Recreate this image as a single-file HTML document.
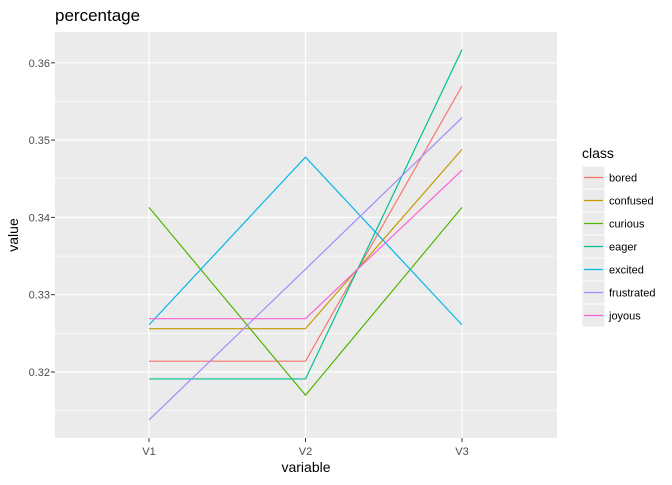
<!DOCTYPE html>
<html><head><meta charset="utf-8"><style>
body{margin:0;background:#fff;font-family:"Liberation Sans",sans-serif}
</style></head><body>
<svg width="672" height="480" xmlns="http://www.w3.org/2000/svg" font-family="Liberation Sans, sans-serif">
<text x="55" y="21" font-size="17" fill="#000">percentage</text>
<rect x="55" y="32" width="502" height="406" fill="#EBEBEB"/>
<g id="grid"></g>
<g id="series"></g>
<g id="axes"></g>
<text x="306" y="472" font-size="14" text-anchor="middle">variable</text>
<text transform="translate(18,235) rotate(-90)" font-size="14" text-anchor="middle">value</text>
<text x="582" y="158" font-size="14">class</text>
<g id="legend"></g>
</svg>
<script>
const categories=["V1","V2","V3"];
const classes=["bored","confused","curious","eager","excited","frustrated","joyous"];
const colors=["#F8766D","#C49A00","#53B400","#00C094","#00B6EB","#A58AFF","#FB61D7"];
const bored=[0.3214,0.3214,0.3570];
const confused=[0.3256,0.3256,0.3488];
const curious=[0.3413,0.3170,0.3413];
const eager=[0.3191,0.3191,0.3617];
const excited=[0.3261,0.3478,0.3261];
const frustrated=[0.3138,0.3333,0.3529];
const joyous=[0.3269,0.3269,0.3461];
const yTicks=[0.32,0.33,0.34,0.35,0.36];
const seriesVals=[bored,confused,curious,eager,excited,frustrated,joyous];
const NS="http://www.w3.org/2000/svg";
function xs(i){return 149+i*156.5;}
function ys(v){return 372-(v-0.32)*7730;}
function mk(t,a,p){const e=document.createElementNS(NS,t);for(const k in a)e.setAttribute(k,a[k]);p.appendChild(e);return e;}
const grid=document.getElementById('grid'),axes=document.getElementById('axes');
for(let i=0;i<yTicks.length+1;i++){const v=yTicks[0]-0.005+i*0.01;const y=ys(v);if(y>32&&y<438){const l=mk('line',{x1:55,x2:557,y1:y,y2:y,stroke:'#fff','stroke-width':0.6},grid);

}}
yTicks.forEach(v=>{const y=ys(v);const l=mk('line',{x1:55,x2:557,y1:y,y2:y,stroke:'#fff','stroke-width':1.2},grid);


const t=mk('text',{x:50,y:y+4,'font-size':11,fill:'#4D4D4D','text-anchor':'end'},axes);t.textContent=v.toFixed(2);


mk('line',{x1:51,x2:55,y1:y,y2:y,stroke:'#333'},axes);});
categories.forEach((c,i)=>{const x=xs(i);const l=mk('line',{x1:x,x2:x,y1:32,y2:438,stroke:'#fff','stroke-width':1.2},grid);


mk('line',{x1:x,x2:x,y1:438,y2:442,stroke:'#333'},axes);
const t=mk('text',{x:x,y:455,'font-size':11,fill:'#4D4D4D','text-anchor':'middle'},axes);t.textContent=c;

});
const sg=document.getElementById('series'),lg=document.getElementById('legend');
seriesVals.forEach((vals,k)=>{const pts=vals.map((v,i)=>xs(i)+','+ys(v)).join(' ');
const p=mk('polyline',{points:pts,fill:'none',stroke:colors[k],'stroke-width':1.2},sg);


const y=166+k*23;
const r=mk('rect',{x:582,y:y,width:23,height:23,fill:'#EBEBEB',stroke:'#fff'},lg);


mk('line',{x1:584,x2:603,y1:y+11.5,y2:y+11.5,stroke:colors[k],'stroke-width':1.2},lg);
const t=mk('text',{x:609,y:y+15.5,'font-size':11,fill:'#000'},lg);t.textContent=classes[k];

});
</script>
</body></html>
